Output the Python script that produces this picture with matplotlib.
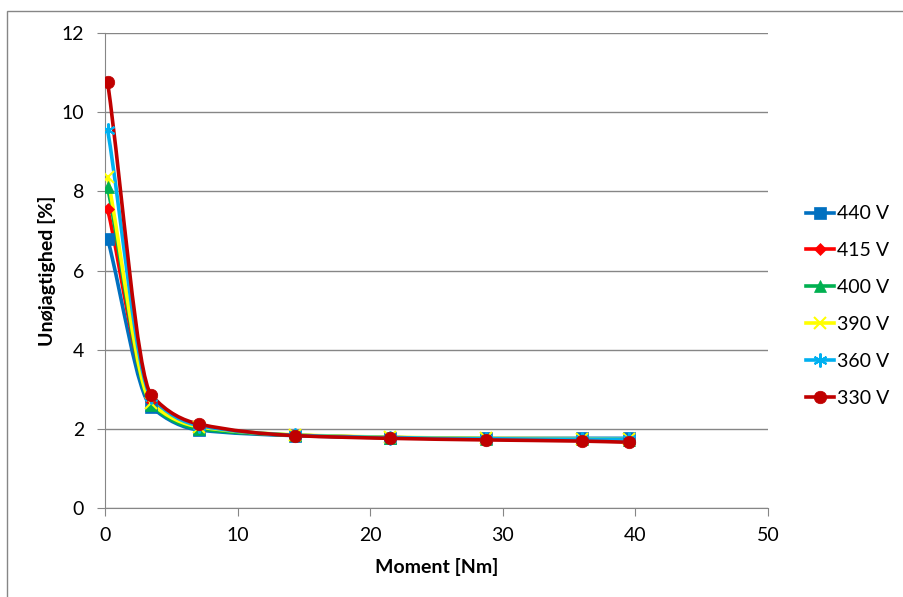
import matplotlib
matplotlib.use('Agg')
import matplotlib.pyplot as plt
from matplotlib.path import Path
from matplotlib.patches import PathPatch, Rectangle
from matplotlib.lines import Line2D

plt.rcParams['font.family'] = ['Lato', 'DejaVu Sans']

moment = [0.2, 3.5, 7.1, 14.3, 21.5, 28.7, 36.0, 39.5]

labels = ['440 V', '415 V', '400 V', '390 V', '360 V', '330 V']
v440 = [6.8, 2.55, 1.97, 1.83, 1.78, 1.76, 1.76, 1.76]
v415 = [7.55, 2.7, 2.03, 1.84, 1.78, 1.74, 1.72, 1.70]
v400 = [8.1, 2.6, 2.0, 1.84, 1.78, 1.75, 1.74, 1.73]
v390 = [8.35, 2.65, 2.05, 1.85, 1.79, 1.76, 1.75, 1.74]
v360 = [9.55, 2.8, 2.08, 1.84, 1.78, 1.75, 1.74, 1.74]
v330 = [10.75, 2.85, 2.12, 1.83, 1.76, 1.72, 1.69, 1.66]
series = [v440, v415, v400, v390, v360, v330]

colors = ['#0070C0', '#FF0000', '#00B050', '#FFFF00', '#00B0F0', '#C00000']
markers = ['s', 'D', '^', 'x', (6, 2, 0), 'o']
msizes = [9, 6, 9, 9, 10, 9]


def tangents(xs, ys):
    # monotone (Fritsch-Butland) slopes so the smoothed line does not overshoot
    n = len(xs)
    h = [xs[i + 1] - xs[i] for i in range(n - 1)]
    d = [(ys[i + 1] - ys[i]) / h[i] for i in range(n - 1)]
    m = [0.0] * n
    m[0], m[-1] = d[0], d[-1]
    for i in range(1, n - 1):
        if d[i - 1] * d[i] <= 0:
            m[i] = 0.0
        else:
            w1 = 2 * h[i] + h[i - 1]
            w2 = h[i] + 2 * h[i - 1]
            m[i] = (w1 + w2) / (w1 / d[i - 1] + w2 / d[i])
    return h, m


def smooth_path(xs, ys):
    h, m = tangents(xs, ys)
    verts = [(xs[0], ys[0])]
    codes = [Path.MOVETO]
    for i in range(len(xs) - 1):
        c1 = (xs[i] + h[i] / 3, ys[i] + m[i] * h[i] / 3)
        c2 = (xs[i + 1] - h[i] / 3, ys[i + 1] - m[i + 1] * h[i] / 3)
        verts += [c1, c2, (xs[i + 1], ys[i + 1])]
        codes += [Path.CURVE4] * 3
    return Path(verts, codes)


def mew_for(m):
    return 1.5 if m in ('x', (6, 2, 0)) else 0.5


fig = plt.figure(figsize=(9.04, 5.97), dpi=100)
W, H = 904, 597
ax = fig.add_axes([105 / W, (H - 508) / H, (768 - 105) / W, (508 - 33) / H])

for vals, c, m, ms in zip(series, colors, markers, msizes):
    ax.add_patch(PathPatch(smooth_path(moment, vals), facecolor='none',
                           edgecolor=c, lw=2.6, zorder=3))
    ax.plot(moment, vals, ls='none', marker=m, ms=ms, color=c,
            mec=c, mew=mew_for(m), zorder=4)

ax.set_xlim(0, 50)
ax.set_ylim(0, 12)
ax.set_xticks(range(0, 51, 10))
ax.set_yticks(range(0, 13, 2))
ax.yaxis.grid(True, color='#868686', lw=1)
ax.set_axisbelow(True)
for s in ['top', 'right']:
    ax.spines[s].set_visible(False)
for s in ['left', 'bottom']:
    ax.spines[s].set_color('#868686')
ax.tick_params(axis='both', colors='#868686', labelcolor='black',
               labelsize=14, length=6, direction='out')
ax.tick_params(axis='y', pad=9)
ax.tick_params(axis='x', pad=8)

ax.set_xlabel('Moment [Nm]', fontsize=14, fontweight='bold', labelpad=10)
ax.set_ylabel('Unøjagtighed [%]', fontsize=14, fontweight='bold', labelpad=4)

handles = [Line2D([0], [0], color=c, lw=2.6, marker=m, ms=ms, mec=c,
                  mew=mew_for(m))
           for c, m, ms in zip(colors, markers, msizes)]
fig.legend(handles, labels, loc='center left',
           bbox_to_anchor=(806 / W, 1 - 306 / H), frameon=False,
           fontsize=14, handlelength=1.45, handletextpad=0.15,
           labelspacing=1.02, borderpad=0, borderaxespad=0)

fig.patches.append(Rectangle((7 / W, -0.1), 1.2, (H - 11) / H + 0.1,
                             transform=fig.transFigure, fill=False,
                             edgecolor='#868686', lw=1))

fig.savefig('out.png', dpi=100)
